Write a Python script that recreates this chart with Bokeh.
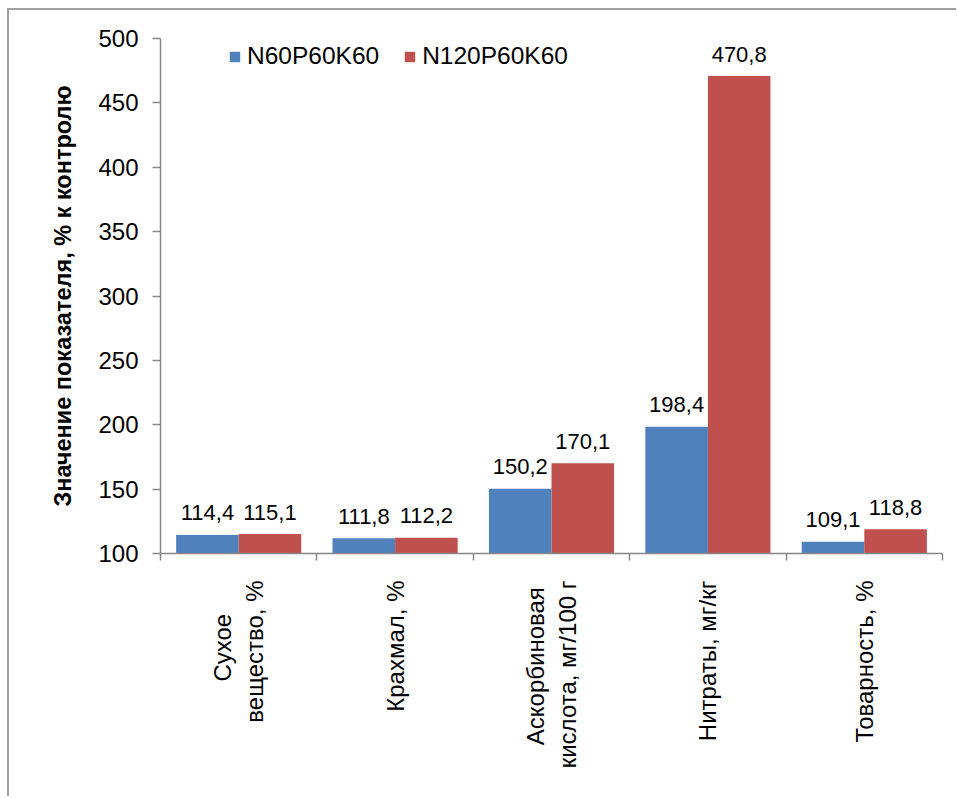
import math
from bokeh.plotting import figure
from bokeh.models import (ColumnDataSource, Range1d, LinearAxis,
                          FixedTicker, Legend, LegendItem)
from bokeh.core.properties import value
from bokeh.embed import file_html
from bokeh.resources import INLINE

# ---- data ----
categories = ["Сухое\nвещество, %", "Крахмал, %", "Аскорбиновая\nкислота, мг/100 г",
              "Нитраты, мг/кг", "Товарность, %"]
series_names = ["N60P60K60", "N120P60K60"]
n60 = [114.4, 111.8, 150.2, 198.4, 109.1]
n120 = [115.1, 112.2, 170.1, 470.8, 118.8]
y_ticks = [100, 150, 200, 250, 300, 350, 400, 450, 500]
y_title = "Значение показателя, % к контролю"

BLUE = "#4F81BD"
RED = "#C0504D"
AXIS = "#868686"
FONT = "Liberation Sans"
BAR_W = 0.4
NBSP = "\u00a0"

# centre the shorter line of two-line category labels (axis labels are end-aligned)
label_pad = {0: 5, 2: 1}


def centred(i, text):
    lines = text.split("\n")
    if len(lines) == 1:
        return text
    lines[0] = lines[0] + NBSP * label_pad.get(i, 0)
    return "\n".join(lines)


idx = list(range(len(categories)))
src = ColumnDataSource(dict(
    x1=[i - BAR_W / 2 for i in idx], x2=[i + BAR_W / 2 for i in idx],
    n60=n60, n120=n120,
    n60_lbl=[f"{v:.1f}".replace(".", ",") for v in n60],
    n120_lbl=[f"{v:.1f}".replace(".", ",") for v in n120],
))

p = figure(x_range=Range1d(-0.5, len(categories) - 0.5), y_range=Range1d(100, 500),
           x_axis_location=None, width=949, height=788,
           min_border_left=151, min_border_top=28, min_border_right=16, min_border_bottom=245,
           output_backend="svg", toolbar_location=None, outline_line_color=None)
p.grid.visible = False
p.background_fill_color = "white"
p.border_fill_color = "white"

r1 = p.vbar(x="x1", top="n60", bottom=100, width=BAR_W, source=src,
            fill_color=BLUE, line_color=None)
r2 = p.vbar(x="x2", top="n120", bottom=100, width=BAR_W, source=src,
            fill_color=RED, line_color=None)

for xc, col in (("x1", "n60"), ("x2", "n120")):
    p.text(x=xc, y=col, text=col + "_lbl", source=src,
           text_align="center", text_baseline="alphabetic", y_offset=-22,
           text_font=value(FONT), text_font_size="22px", text_color="black")

# y axis
ya = p.yaxis[0]
ya.ticker = FixedTicker(ticks=y_ticks)
ya.minor_tick_line_color = None
ya.axis_line_color = AXIS
ya.axis_line_width = 1.5
ya.major_tick_line_color = AXIS
ya.major_tick_line_width = 1.5
ya.major_tick_in = 0
ya.major_tick_out = 8
ya.major_label_text_font = FONT
ya.major_label_text_font_size = "24px"
ya.major_label_text_color = "black"
ya.major_label_standoff = 14
ya.axis_label = y_title
ya.axis_label_text_font = FONT
ya.axis_label_text_font_style = "bold"
ya.axis_label_text_font_size = "23.5px"
ya.axis_label_text_color = "black"
ya.axis_label_standoff = 19

# x axis: labels at category centres, ticks (minor) at category boundaries
cat_axis = LinearAxis(ticker=FixedTicker(ticks=idx,
                                         minor_ticks=[i - 0.5 for i in range(len(categories) + 1)]),
                      major_label_overrides={i: centred(i, c) for i, c in zip(idx, categories)},
                      major_tick_line_color=None, major_tick_in=0, major_tick_out=0,
                      minor_tick_line_color=AXIS, minor_tick_line_width=1.5,
                      minor_tick_in=0, minor_tick_out=7,
                      axis_line_color=AXIS, axis_line_width=1.5,
                      major_label_orientation=math.pi / 2,
                      major_label_text_font=FONT, major_label_text_font_size="24px",
                      major_label_text_color="black", major_label_standoff=20)
p.add_layout(cat_axis, "below")

legend = Legend(items=[LegendItem(label=series_names[0], renderers=[r1]),
                       LegendItem(label=series_names[1], renderers=[r2])],
                orientation="horizontal", location=(68, 483),
                glyph_width=13, glyph_height=13, label_standoff=6, spacing=24,
                padding=0, margin=0, border_line_color=None, background_fill_alpha=0,
                label_text_font=FONT, label_text_font_size="24.5px", label_text_color="black")
p.add_layout(legend, "center")

p.styles = {"border-top": "2px solid #a0a0a0", "border-left": "2px solid #a0a0a0"}
p.margin = (8, 0, 0, 7)

open("out.html", "w").write(file_html(p, INLINE))
